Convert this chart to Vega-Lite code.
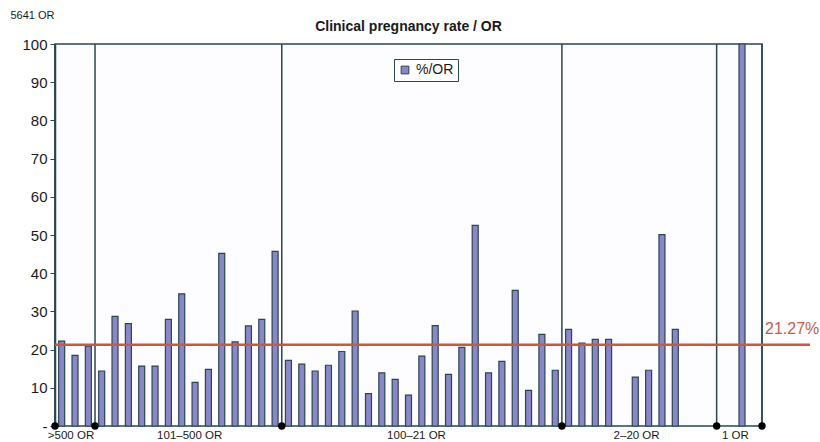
{
  "$schema": "https://vega.github.io/schema/vega-lite/v6.json",
  "width": 707,
  "height": 382,
  "autosize": "none",
  "padding": {"left": 55, "top": 44, "right": 58, "bottom": 16},
  "background": "#ffffff",
  "config": {
    "font": "Liberation Sans",
    "view": {"stroke": "#2b4650", "strokeWidth": 1.5, "fill": "#fdfdff"},
    "axisY": {
      "grid": false,
      "tickSize": 5,
      "tickColor": "#2b4650",
      "domainColor": "#2b4650",
      "domainWidth": 1.5,
      "labelFontSize": 15,
      "labelColor": "#1a1a1a",
      "labelPadding": 3,
      "labelOverlap": false,
      "titleAngle": 0,
      "titleX": -45,
      "titleY": -29,
      "titleAlign": "left",
      "titleBaseline": "middle",
      "titleFontSize": 11,
      "titleFontWeight": "normal",
      "titleColor": "#1a1a1a"
    }
  },
  "title": {
    "text": "Clinical pregnancy rate / OR",
    "fontSize": 14,
    "fontWeight": "bold",
    "color": "#1a1a1a",
    "offset": 0,
    "dy": 25,
    "anchor": "middle"
  },
  "datasets": {
    "bars": [
      {"slot": 0, "value": 22.2}, {"slot": 1, "value": 18.5}, {"slot": 2, "value": 20.9},
      {"slot": 3, "value": 14.4}, {"slot": 4, "value": 28.7}, {"slot": 5, "value": 26.8},
      {"slot": 6, "value": 15.7}, {"slot": 7, "value": 15.7}, {"slot": 8, "value": 27.9},
      {"slot": 9, "value": 34.6}, {"slot": 10, "value": 11.4}, {"slot": 11, "value": 14.8},
      {"slot": 12, "value": 45.2}, {"slot": 13, "value": 22.0}, {"slot": 14, "value": 26.2},
      {"slot": 15, "value": 27.9}, {"slot": 16, "value": 45.7},
      {"slot": 17, "value": 17.2}, {"slot": 18, "value": 16.2}, {"slot": 19, "value": 14.4},
      {"slot": 20, "value": 15.9}, {"slot": 21, "value": 19.5}, {"slot": 22, "value": 30.1},
      {"slot": 23, "value": 8.5}, {"slot": 24, "value": 13.9}, {"slot": 25, "value": 12.2},
      {"slot": 26, "value": 8.1}, {"slot": 27, "value": 18.3}, {"slot": 28, "value": 26.3},
      {"slot": 29, "value": 13.5}, {"slot": 30, "value": 20.6}, {"slot": 31, "value": 52.5},
      {"slot": 32, "value": 13.9}, {"slot": 33, "value": 16.9}, {"slot": 34, "value": 35.5},
      {"slot": 35, "value": 9.3}, {"slot": 36, "value": 24.0}, {"slot": 37, "value": 14.6},
      {"slot": 38, "value": 25.3}, {"slot": 39, "value": 21.7}, {"slot": 40, "value": 22.7},
      {"slot": 41, "value": 22.7}, {"slot": 43, "value": 12.8}, {"slot": 44, "value": 14.6},
      {"slot": 45, "value": 50.1}, {"slot": 46, "value": 25.3},
      {"slot": 51, "value": 100}
    ],
    "dividers": [
      {"pos": -0.5}, {"pos": 2.5}, {"pos": 16.5}, {"pos": 37.5}, {"pos": 49.1}, {"pos": 52.5}
    ],
    "groups": [
      {"label": ">500 OR", "mid": 0.7},
      {"label": "101–500 OR", "mid": 9.6},
      {"label": "100–21 OR", "mid": 26.6},
      {"label": "2–20 OR", "mid": 43.1},
      {"label": "1 OR", "mid": 50.5}
    ],
    "avg": [{"avg": 21.27, "label": "21.27%"}]
  },
  "layer": [
    {
      "data": {"name": "bars"},
      "mark": {"type": "bar", "size": 6, "stroke": "#2b4650", "strokeWidth": 1.2},
      "encoding": {
        "x": {"field": "slot", "type": "quantitative", "scale": {"domain": [-0.5, 52.5], "nice": false, "zero": false, "padding": 0}, "axis": null},
        "y": {
          "field": "value", "type": "quantitative",
          "scale": {"domain": [0, 100], "nice": false},
          "axis": {"values": [0, 10, 20, 30, 40, 50, 60, 70, 80, 90, 100], "labelExpr": "datum.value == 0 ? '-' : datum.label", "title": "5641 OR", "labelOverlap": false}
        },
        "color": {
          "datum": "%/OR",
          "scale": {"range": ["#8a87c8"]},
          "legend": {
            "orient": "none",
            "legendX": 339,
            "legendY": 15,
            "title": null,
            "strokeColor": "#2b4650",
            "fillColor": "#ffffff",
            "padding": 4,
            "symbolType": "square",
            "symbolSize": 60,
            "symbolStrokeColor": "#2b4650",
            "symbolStrokeWidth": 1,
            "labelFontSize": 14,
            "labelColor": "#1a1a1a"
          }
        }
      }
    },
    {
      "data": {"name": "dividers"},
      "mark": {"type": "rule", "color": "#2b4650", "strokeWidth": 1.5},
      "encoding": {
        "x": {"field": "pos", "type": "quantitative"}
      }
    },
    {
      "data": {"name": "avg"},
      "mark": {"type": "rule", "color": "#c65a44", "strokeWidth": 2.5, "clip": false},
      "encoding": {
        "x": {"datum": -0.5, "type": "quantitative"},
        "x2": {"datum": 56.1},
        "y": {"field": "avg", "type": "quantitative", "axis": {"values": [0, 10, 20, 30, 40, 50, 60, 70, 80, 90, 100], "labelExpr": "datum.value == 0 ? '-' : datum.label", "title": "5641 OR", "labelOverlap": false}}
      }
    },
    {
      "data": {"name": "avg"},
      "mark": {"type": "text", "color": "#c0604a", "fontSize": 16, "align": "left", "baseline": "alphabetic", "dx": 3, "dy": -11},
      "encoding": {
        "x": {"datum": 52.5, "type": "quantitative"},
        "y": {"field": "avg", "type": "quantitative", "axis": {"values": [0, 10, 20, 30, 40, 50, 60, 70, 80, 90, 100], "labelExpr": "datum.value == 0 ? '-' : datum.label", "title": "5641 OR", "labelOverlap": false}},
        "text": {"field": "label"}
      }
    },
    {
      "data": {"name": "dividers"},
      "mark": {"type": "point", "filled": true, "color": "#000000", "size": 55, "opacity": 1},
      "encoding": {
        "x": {"field": "pos", "type": "quantitative"},
        "y": {"datum": 0, "type": "quantitative", "axis": {"values": [0, 10, 20, 30, 40, 50, 60, 70, 80, 90, 100], "labelExpr": "datum.value == 0 ? '-' : datum.label", "title": "5641 OR", "labelOverlap": false}}
      }
    },
    {
      "data": {"name": "groups"},
      "mark": {"type": "text", "fontSize": 11.5, "color": "#1a1a1a", "baseline": "middle", "align": "center", "dy": 10},
      "encoding": {
        "x": {"field": "mid", "type": "quantitative"},
        "y": {"datum": 0, "type": "quantitative", "axis": {"values": [0, 10, 20, 30, 40, 50, 60, 70, 80, 90, 100], "labelExpr": "datum.value == 0 ? '-' : datum.label", "title": "5641 OR", "labelOverlap": false}},
        "text": {"field": "label"}
      }
    }
  ]
}
